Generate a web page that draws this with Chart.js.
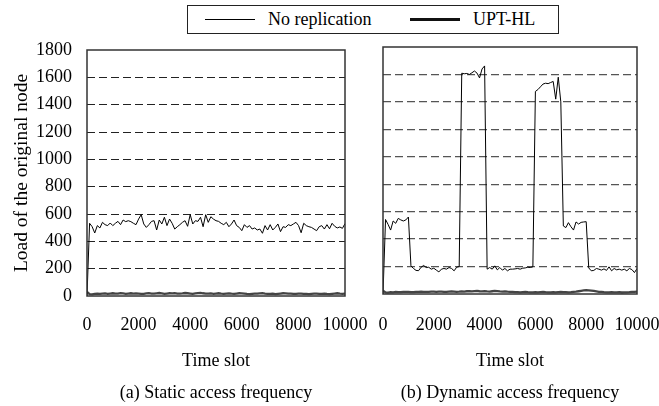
<!DOCTYPE html>
<html>
<head>
<meta charset="utf-8">
<script src="https://cdn.jsdelivr.net/npm/chart.js@4.4.0/dist/chart.umd.min.js"></script>
<style>
  html, body { margin: 0; padding: 0; background: #fff; }
  body { width: 659px; height: 406px; position: relative; overflow: hidden; font-family: "Liberation Serif", serif; }
  canvas { position: absolute; top: 0; }
  #staticChart { left: 0; }
  #dynamicChart { left: 355px; }
  #legend { position: absolute; left: 187px; top: 5px; width: 370px; height: 27px; border: 1px solid #222; }
  .item { position: absolute; top: 0; height: 27px; display: flex; align-items: center; font-size: 18px; color: #000; }
  .swatch { width: 50px; margin-right: 13px; }
</style>
</head>
<body>
<div id="legend"></div>
<canvas id="staticChart" width="380" height="409"></canvas>
<canvas id="dynamicChart" width="304" height="409"></canvas>
<script>
// one sample every 100 time slots
const SLOT_STEP = 100;
const slots = Array.from({ length: 101 }, (_, i) => i * SLOT_STEP);

const seriesNames = ['No replication', 'UPT-HL'];
const xTicks = [0, 2000, 4000, 6000, 8000, 10000];
const yTicks = [0, 200, 400, 600, 800, 1000, 1200, 1400, 1600, 1800];

// (a) static access frequency
const staticNoRep = [
  0, 532, 507, 461, 515, 498, 539, 522, 515, 534,
  515, 532, 546, 522, 556, 544, 551, 544, 532, 522,
  563, 595, 527, 502, 522, 546, 551, 483, 556, 527,
  576, 515, 563, 532, 490, 507, 522, 539, 551, 510,
  595, 527, 551, 546, 576, 507, 595, 539, 580, 563,
  551, 546, 532, 522, 539, 507, 527, 556, 515, 502,
  478, 522, 502, 515, 490, 498, 483, 490, 459, 515,
  483, 522, 483, 502, 527, 471, 507, 502, 522, 515,
  527, 539, 515, 463, 532, 515, 507, 502, 490, 478,
  507, 515, 490, 522, 492, 532, 510, 498, 505, 495,
  530
];
const staticUpt = [
  30, 14, 12, 16, 18, 15, 17, 19, 16, 18,
  20, 18, 17, 21, 19, 16, 18, 20, 17, 19,
  18, 16, 15, 19, 21, 18, 17, 20, 22, 19,
  16, 18, 20, 19, 21, 18, 17, 19, 22, 20,
  18, 16, 19, 21, 23, 20, 18, 17, 19, 16,
  18, 20, 17, 15, 18, 19, 17, 16, 18, 20,
  19, 17, 15, 14, 16, 18, 17, 19, 21, 18,
  16, 15, 17, 14, 16, 18, 20, 19, 17, 18,
  16, 15, 17, 18, 16, 15, 14, 16, 18, 17,
  15, 16, 17, 15, 14, 16, 18, 20, 17, 16,
  18
];

// (b) dynamic access frequency
const dynamicNoRep = [
  0, 543, 507, 466, 532, 515, 551, 540, 532, 540,
  561, 205, 186, 172, 170, 195, 208, 193, 195, 181,
  188, 174, 161, 181, 186, 181, 193, 186, 169, 195,
  200, 1609, 1605, 1607, 1600, 1612, 1625, 1610, 1575, 1640,
  1662, 181, 193, 181, 205, 176, 193, 174, 186, 169,
  181, 181, 183, 186, 181, 188, 190, 195, 193, 198,
  1476, 1490, 1510, 1530, 1536, 1533, 1541, 1549, 1420, 1580,
  1400, 496, 484, 520, 490, 466, 525, 510, 522, 525,
  527, 190, 169, 172, 186, 181, 174, 183, 172, 198,
  169, 186, 176, 181, 174, 181, 169, 186, 178, 156,
  185
];
const dynamicUpt = [
  24, 12, 10, 13, 12, 15, 13, 14, 16, 15,
  16, 14, 13, 15, 16, 17, 16, 15, 16, 18,
  17, 16, 17, 18, 16, 15, 17, 19, 18, 16,
  17, 19, 18, 20, 21, 19, 21, 22, 20, 19,
  21, 19, 18, 20, 22, 21, 19, 18, 19, 17,
  16, 15, 14, 13, 12, 14, 15, 13, 12, 12,
  13, 12, 14, 15, 13, 12, 12, 13, 12, 14,
  15, 13, 14, 12, 13, 15, 17, 20, 23, 26,
  28, 27, 25, 22, 19, 16, 15, 13, 12, 12,
  13, 12, 12, 13, 11, 12, 12, 13, 15, 16,
  18
];

Chart.defaults.font.family = '"Liberation Serif", "Times New Roman", serif';
Chart.defaults.font.size = 18;
Chart.defaults.color = '#000';

const frame = {
  id: 'frame',
  afterDraw(chart) {
    const { ctx, chartArea: a } = chart;
    ctx.save();
    ctx.strokeStyle = '#333';
    ctx.lineWidth = 1.5;
    ctx.strokeRect(a.left, a.top, a.right - a.left, a.bottom - a.top);
    ctx.restore();
  }
};

function points(values) {
  return slots.map((s, i) => ({ x: s, y: values[i] }));
}

function makeChart(id, noRep, upt, opt) {
  return new Chart(document.getElementById(id), {
    type: 'line',
    data: {
      datasets: [
        { label: seriesNames[0], data: points(noRep), borderColor: '#000', borderWidth: 1, pointRadius: 0, tension: 0 },
        { label: seriesNames[1], data: points(upt), borderColor: '#444', borderWidth: 2.3, pointRadius: 0, tension: 0 }
      ]
    },
    options: {
      responsive: false,
      animation: false,
      layout: { padding: opt.padding },
      plugins: {
        legend: { display: false },
        tooltip: { enabled: false }
      },
      scales: {
        x: {
          type: 'linear',
          min: 0,
          max: 10000,
          afterBuildTicks: s => { s.ticks = xTicks.map(v => ({ value: v })); },
          grid: { display: false, drawTicks: false },
          border: { display: false },
          ticks: { padding: opt.xTickPad, maxRotation: 0, autoSkip: false, callback: v => String(v) },
          title: {
            display: true,
            text: ['Time slot', opt.caption],
            font: { size: 18, lineHeight: 1.78 },
            padding: { top: 0, bottom: 0 }
          },
          afterFit: s => {
            s.height = opt.xHeight;
            s.paddingLeft = 0;
            s.paddingRight = 0;
          }
        },
        y: {
          min: 0,
          max: 1800,
          afterBuildTicks: s => { s.ticks = yTicks.map(v => ({ value: v })); },
          grid: {
            drawTicks: false,
            lineWidth: opt.gridWidth,
            color: c => (c.tick && (c.tick.value === 0 || c.tick.value === 1800)) ? 'rgba(0,0,0,0)' : opt.gridColor
          },
          border: { display: false, dash: [8, 4] },
          ticks: { display: opt.showY, padding: 15, callback: v => String(v) },
          title: {
            display: opt.showY,
            text: 'Load of the original node',
            font: { size: 19.5 },
            padding: { top: 10, bottom: 0 }
          },
          afterFit: s => {
            s.width = opt.yWidth;
            s.paddingTop = 0;
            s.paddingBottom = 0;
          }
        }
      }
    },
    plugins: [frame]
  });
}

const staticChart = makeChart('staticChart', staticNoRep, staticUpt, {
  caption: '(a) Static access frequency',
  padding: { top: 50, right: 35, bottom: 0, left: 0 },
  yWidth: 87, xHeight: 113, xTickPad: 18,
  showY: true, gridColor: '#222', gridWidth: 1
});

makeChart('dynamicChart', dynamicNoRep, dynamicUpt, {
  caption: '(b) Dynamic access frequency',
  padding: { top: 47, right: 22, bottom: 0, left: 0 },
  yWidth: 28, xHeight: 115, xTickPad: 20,
  showY: false, gridColor: '#555', gridWidth: 1.3
});

// shared legend built from the datasets
const legendEl = document.getElementById('legend');
const itemLeft = [17, 222];
staticChart.data.datasets.forEach((ds, i) => {
  const item = document.createElement('div');
  item.className = 'item';
  item.style.left = itemLeft[i] + 'px';
  const sw = document.createElement('span');
  sw.className = 'swatch';
  sw.style.borderTop = (i === 0 ? 1 : 3) + 'px solid ' + (i === 0 ? '#000' : '#111');
  const txt = document.createElement('span');
  txt.textContent = ds.label;
  item.appendChild(sw);
  item.appendChild(txt);
  legendEl.appendChild(item);
});
</script>
</body>
</html>
